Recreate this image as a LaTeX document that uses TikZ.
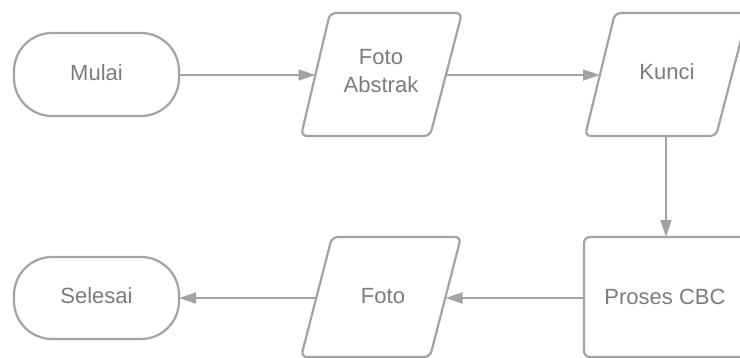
\documentclass[tikz,border=0pt]{standalone}
\usepackage{fontspec}
\setmainfont{Liberation Sans}
\usetikzlibrary{arrows.meta}
\definecolor{edgegray}{HTML}{A3A3A3}
\definecolor{textgray}{HTML}{7C7C7C}
\tikzset{
  outline/.style={draw=edgegray, line width=2.2pt, line join=round},
  label/.style={text=textgray, align=center, inner sep=0pt,
    font=\fontsize{22}{28}\selectfont},
  flow/.style={draw=edgegray, line width=1.8pt,
    -{Triangle[length=17pt,width=11pt]}},
}
\begin{document}
\begin{tikzpicture}[x=1pt,y=-1pt]
  \path[use as bounding box] (0,0) rectangle (740,358);
  \clip (0,0) rectangle (740,358);
  \fill[white] (0,0) rectangle (740,358);

  % start terminal
  \draw[outline, rounded corners=38pt] (14,33) rectangle (179,116);
  \node[label] (mulai) at (96.5,73) {Mulai};
  \coordinate (mulai-e) at (179,75);

  % input: abstract photo
  \draw[outline, rounded corners=6pt]
    (330,13) -- (462,13) -- (430,136) -- (301,136) -- cycle;
  \node[label] (abstrak) at (381,71) {Foto\\Abstrak};
  \coordinate (abstrak-w) at (315.5,75);
  \coordinate (abstrak-e) at (446,75);

  % input: key
  \draw[outline, rounded corners=6pt]
    (615,13) -- (748,13) -- (716,136) -- (585,136) -- cycle;
  \node[label] (kunci) at (667,72) {Kunci};
  \coordinate (kunci-w) at (600,75);
  \coordinate (kunci-s) at (666,136);

  % process block
  \draw[outline, rounded corners=6pt] (584,237) rectangle (748,357);
  \node[label] (cbc) at (665,297) {Proses CBC};
  \coordinate (cbc-n) at (666,237);
  \coordinate (cbc-w) at (584,298);

  % output: photo
  \draw[outline, rounded corners=6pt]
    (332,237) -- (461,237) -- (430,357) -- (301,357) -- cycle;
  \node[label] (foto) at (383,296) {Foto};
  \coordinate (foto-e) at (445.5,298);
  \coordinate (foto-w) at (316.5,298);

  % end terminal
  \draw[outline, rounded corners=38pt] (14,257) rectangle (179,339);
  \node[label] (selesai) at (96.5,296) {Selesai};
  \coordinate (selesai-e) at (179,298);

  % connectors
  \draw[flow] (mulai-e) -- (abstrak-w);
  \draw[flow] (abstrak-e) -- (kunci-w);
  \draw[flow] (kunci-s) -- (cbc-n);
  \draw[flow] (cbc-w) -- (foto-e);
  \draw[flow] (foto-w) -- (selesai-e);
\end{tikzpicture}
\end{document}
